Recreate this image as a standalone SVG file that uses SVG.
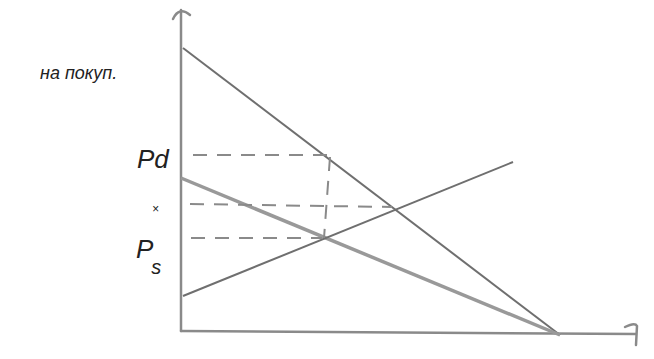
<svg xmlns="http://www.w3.org/2000/svg" width="654" height="359" viewBox="0 0 654 359">
<style>
.ax{stroke:#8a8a8a;stroke-width:2.5;fill:none;stroke-linecap:round}
.ln{stroke:#6f6f6f;stroke-width:2;fill:none}
.thick{stroke:#999;stroke-width:3.5;fill:none}
.dash{stroke:#8a8a8a;stroke-width:2;fill:none;stroke-dasharray:14 10}
.lbl{font-family:"Liberation Sans",sans-serif;fill:#222;font-style:italic}
</style>
<rect width="654" height="359" fill="#fff"/>
<g id="axes">
<path class="ax" d="M181 10 L181 331"/>
<path class="ax" d="M173 19 Q179 6 190 15"/>
<path class="ax" d="M181 331 L636 334"/>
<path class="ax" d="M625 327 Q635 322 637 326 L636 345"/>
</g>
<g id="connectors">
<path class="ln" d="M183 48 L560 335"/>
<path class="thick" d="M181 178 L560 335"/>
<path class="ln" d="M183 296 L513 162"/>
<path class="dash" d="M193 155 L330 155"/>
<path class="dash" d="M330 157 L324 238"/>
<path class="dash" d="M190 204 L392 207"/>
<path class="dash" d="M191 238 L322 238"/>
</g>
<g id="labels">
<text class="lbl" x="40" y="79" font-size="18">на покуп.</text>
<text class="lbl" x="137" y="168" font-size="26">Pd</text>
<text class="lbl" x="152" y="213" font-size="12">×</text>
<text class="lbl" x="136" y="258" font-size="26">P<tspan font-size="20" dx="-2" dy="16">s</tspan></text>
</g>
</svg>
